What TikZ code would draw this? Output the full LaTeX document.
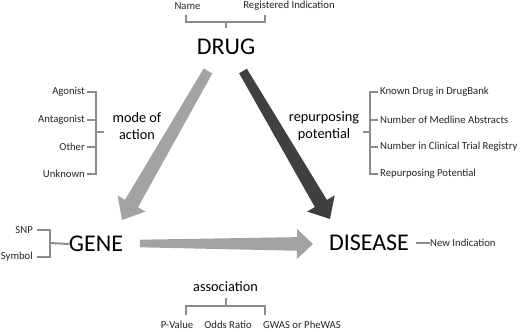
\documentclass[tikz,border=0pt]{standalone}
\usepackage{fontspec}
\setmainfont{Carlito}
\usetikzlibrary{calc}
\definecolor{lightarr}{HTML}{A3A3A3}
\definecolor{darkarr}{HTML}{404040}
\definecolor{brk}{HTML}{8C8C8C}
\definecolor{smalltxt}{HTML}{262626}
\newcommand\fatarrow[7]{% #1 style, #2 start, #3 tip, #4 half width at start, #5 half width at head, #6 head half width, #7 head length
  \coordinate (#2#3h) at ($(#3)!#7!(#2)$);
  \fill[#1] ($(#2)!#4!90:(#3)$) -- ($(#2#3h)!#5!-90:(#2)$) -- ($(#2#3h)!#6!-90:(#2)$) -- (#3)
    -- ($(#2#3h)!#6!90:(#2)$) -- ($(#2#3h)!#5!90:(#2)$) -- ($(#2)!#4!-90:(#3)$) -- cycle;}
\begin{document}
\begin{tikzpicture}[x=1pt,y=-1pt,
  big/.style={inner sep=0pt,font=\fontsize{24}{28}\selectfont},
  mid/.style={inner sep=0pt,font=\fontsize{14.3}{17}\selectfont,align=center},
  small/.style={inner sep=0pt,font=\fontsize{10.7}{13}\selectfont,text=smalltxt},
  bracket/.style={draw=brk,line width=2pt},
  larrow/.style={fill=lightarr},
  darrow/.style={fill=darkarr}]
\useasboundingbox[fill=white] (0,0) rectangle (520,332);

% main nodes
\node[big] (drug) at (226,47) {DRUG};
\node[big] (gene) at (96,244) {GENE};
\node[big] (disease) at (369,243) {DISEASE};

% arrows
\coordinate (s1) at (208,71);
\coordinate (t1) at (122,220);
\coordinate (s2) at (243,71);
\coordinate (t2) at (330,219);
\coordinate (s3) at (140,243.5);
\coordinate (t3) at (313,244);
\fatarrow{larrow}{s1}{t1}{5pt}{7.5pt}{16pt}{19pt}
\fatarrow{darrow}{s2}{t2}{4.5pt}{7pt}{16pt}{18pt}
\fatarrow{larrow}{s3}{t3}{3.8pt}{6.8pt}{15pt}{16pt}

% DRUG attributes
\node[small] (name) at (187.5,6) {Name};
\node[small] (regind) at (289,6) {Registered Indication};
\coordinate (tb) at (226,28);
\draw[bracket] (186,15) -- (186,22) -- (265,22) -- (265,15);
\draw[bracket] (226,22) -- (tb);

% mode of action
\node[mid] (moa) at (137,126.5) {mode of\\action};
\node[small,anchor=east] (agon) at (85,92) {Agonist};
\node[small,anchor=east] (antag) at (85,120) {Antagonist};
\node[small,anchor=east] (other) at (85,147) {Other};
\node[small,anchor=east] (unk) at (85,173.5) {Unknown};
\draw[bracket] (87,92) -- (96,92) -- (96,173.5) -- (87,173.5);
\draw[bracket] (87,120) -- (96,120);
\draw[bracket] (87,147) -- (96,147);
\draw[bracket] (96,132) -- (104,132);

% repurposing potential
\node[mid] (rep) at (324,126.5) {repurposing\\potential};
\node[small,anchor=west] (known) at (380,92) {Known Drug in DrugBank};
\node[small,anchor=west] (medl) at (380,119.5) {Number of Medline Abstracts};
\node[small,anchor=west] (clin) at (380,147) {Number in Clinical Trial Registry};
\node[small,anchor=west] (reppot) at (380,173.5) {Repurposing Potential};
\draw[bracket] (378,92) -- (370,92) -- (370,173.5) -- (378,173.5);
\draw[bracket] (370,119.5) -- (378,119.5);
\draw[bracket] (370,147) -- (378,147);
\draw[bracket] (363,132) -- (370,132);

% GENE attributes
\node[small,anchor=east] (snp) at (33,230) {SNP};
\node[small,anchor=east] (sym) at (33,257) {Symbol};
\draw[bracket] (37,230) -- (50,230) -- (50,257) -- (37,257);
\draw[bracket] (50,243) -- (gene.west);

% DISEASE attribute
\node[small,anchor=west] (newind) at (430,243) {New Indication};
\draw[bracket] (416,243) -- (newind.west);

% association
\node[mid] (assoc) at (225.5,287) {association};
\node[small] (pval) at (177,325) {P-Value};
\node[small] (odds) at (228,325) {Odds Ratio};
\node[small] (gwas) at (302,325) {GWAS or PheWAS};
\draw[bracket] (186,315) -- (186,306) -- (265,306) -- (265,315);
\draw[bracket] (226,306) -- (226,298);
\end{tikzpicture}
\end{document}
